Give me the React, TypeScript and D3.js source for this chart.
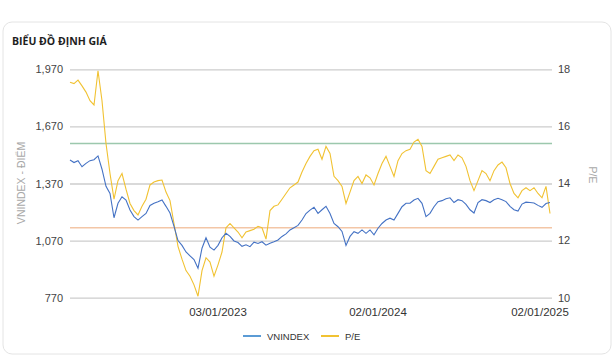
import React, { useEffect, useRef } from 'react'
import * as d3 from 'd3'

// samples on a trading-day index
const vnindex = [
  1493, 1480, 1490, 1458, 1476, 1490, 1495, 1515, 1445, 1355, 1318, 1190, 1266, 1300, 1283, 1231,
  1196, 1178, 1196, 1213, 1255, 1266, 1274, 1283, 1250, 1215, 1145, 1070, 1045, 1010, 990, 970,
  925, 1030, 1085, 1035, 1020, 1045, 1085, 1108, 1092, 1068, 1060, 1040, 1048, 1038, 1062, 1055,
  1064, 1046, 1056, 1064, 1073, 1092, 1105, 1126, 1138, 1150, 1178, 1212, 1230, 1245, 1213, 1232,
  1250, 1212, 1160, 1143, 1118, 1045, 1092, 1117, 1108, 1126, 1108, 1126, 1100, 1135, 1160, 1178,
  1188, 1178, 1213, 1248, 1266, 1266, 1283, 1292, 1266, 1196, 1213, 1248, 1274, 1280, 1290, 1295,
  1270, 1285, 1280, 1260, 1232, 1215, 1270, 1285, 1280, 1270, 1285, 1292, 1285, 1275, 1250, 1232,
  1225, 1262, 1272, 1270, 1268, 1255, 1245, 1265, 1270,
]

const pe = [
  17.55, 17.5, 17.62, 17.42, 17.2, 16.9, 16.75, 17.95, 16.9, 15.4, 14.35, 13.45, 14.1, 14.35, 13.8, 13.3,
  13.05, 12.9, 13.2, 13.45, 13.95, 14.05, 14.1, 14.12, 13.7, 13.4, 12.6, 11.8, 11.35, 10.95, 10.75, 10.45,
  10.05, 10.95, 11.4, 11.25, 10.75, 11.15, 11.6, 12.45, 12.6, 12.45, 12.3, 12.1, 12.3, 12.35, 12.4, 12.5,
  12.45, 12.05, 13.05, 13.2, 13.25, 13.45, 13.65, 13.85, 13.95, 14.05, 14.4, 14.7, 14.95, 15.15, 15.2, 14.85,
  15.3, 15.05, 14.25, 14.1, 13.9, 13.3, 13.7, 14.1, 14.25, 14.0, 14.3, 14.2, 13.95, 14.35, 14.7, 14.95,
  14.6, 14.25, 14.8, 15.05, 15.15, 15.2, 15.45, 15.55, 15.3, 14.45, 14.35, 14.6, 14.85, 14.9, 14.95, 15.0,
  14.8, 15.0, 14.9, 14.6, 14.1, 13.75, 14.1, 14.45, 14.35, 14.1, 14.45, 14.65, 14.75, 14.55, 14.0, 13.65,
  13.5, 13.75, 13.85, 13.75, 13.85, 13.65, 13.5, 13.9, 12.95,
]

const leftTicks = [770, 1070, 1370, 1670, 1970]
const rightTicks = [10, 12, 14, 16, 18]
const xTickIdx = [37, 77, 117.5]
const xTickLabels = ['03/01/2023', '02/01/2024', '02/01/2025']
const peBands = [15.4, 12.45]

const W = 615
const H = 361
const FONT = '"Liberation Sans", Arial, sans-serif'

const App: React.FC = () => {
  const ref = useRef<SVGSVGElement>(null)

  useEffect(() => {
    if (!ref.current) return
    const svg = d3.select(ref.current)
    svg.selectAll('*').remove()

    const left = 70
    const right = 550
    const top = 69.3
    const bottom = 297.7

    const x = d3.scaleLinear().domain([0, vnindex.length - 1]).range([left, right])
    const yL = d3.scaleLinear().domain([770, 1970]).range([bottom, top])
    const yR = d3.scaleLinear().domain([10, 18]).range([bottom, top])

    // card
    svg.append('rect')
      .attr('x', 3).attr('y', 22).attr('width', 608).attr('height', 332).attr('rx', 9)
      .attr('fill', '#fff').attr('stroke', '#e4e4e4')

    svg.append('text')
      .attr('x', 12).attr('y', 45)
      .attr('font-family', '"Open Sans", sans-serif').attr('font-weight', 700).attr('font-size', 10.5)
      .attr('fill', '#1e1e1e')
      .text('BIỂU ĐỒ ĐỊNH GIÁ')

    // left axis + grid
    const ga = svg.append('g')
      .attr('transform', `translate(${left},0)`)
      .call(d3.axisLeft(yL).tickValues(leftTicks).tickSize(-(right - left + 2)).tickPadding(7).tickFormat(d3.format(',')))
    ga.select('.domain').remove()
    ga.selectAll('line').attr('stroke', '#cdcdcd').attr('stroke-width', 1.3)
    ga.selectAll('text').attr('font-family', FONT).attr('font-size', 11).attr('fill', '#444')

    // right axis labels
    svg.append('g').selectAll('text')
      .data(rightTicks)
      .enter().append('text')
      .attr('x', 558).attr('y', d => yR(d)).attr('dy', '0.35em')
      .attr('font-family', FONT).attr('font-size', 11).attr('fill', '#444')
      .text(d => d)

    // P/E reference bands
    svg.append('g').selectAll('line')
      .data(peBands)
      .enter().append('line')
      .attr('x1', left).attr('x2', right + 2)
      .attr('y1', d => yR(d)).attr('y2', d => yR(d))
      .attr('stroke', (d, i) => (i === 0 ? '#9cc8ad' : '#f3c6a6'))
      .attr('stroke-width', 1.6)

    // axis titles
    svg.append('text')
      .attr('transform', `translate(25,183) rotate(-90)`)
      .attr('text-anchor', 'middle')
      .attr('font-family', FONT).attr('font-size', 10.5).attr('fill', '#a8a8a8')
      .text('VNINDEX - ĐIỂM')
    svg.append('text')
      .attr('transform', `translate(589,175) rotate(90)`)
      .attr('text-anchor', 'middle')
      .attr('font-family', FONT).attr('font-size', 10.5).attr('fill', '#a8a8a8')
      .text('P/E')

    // x labels
    svg.append('g').selectAll('text')
      .data(xTickIdx)
      .enter().append('text')
      .attr('x', d => x(d)).attr('y', 316)
      .attr('text-anchor', 'middle')
      .attr('font-family', FONT).attr('font-size', 11.5).attr('fill', '#333')
      .text((d, i) => xTickLabels[i])

    const lineL = d3.line<number>().x((d, i) => x(i)).y(d => yL(d))
    const lineR = d3.line<number>().x((d, i) => x(i)).y(d => yR(d))

    svg.append('path').datum(pe)
      .attr('d', lineR).attr('fill', 'none').attr('stroke', '#f1c232').attr('stroke-width', 1.1)
    svg.append('path').datum(vnindex)
      .attr('d', lineL).attr('fill', 'none').attr('stroke', '#4472c4').attr('stroke-width', 1.1)

    // legend
    const legend = [
      { name: 'VNINDEX', color: '#5b9bd5', x: 243 },
      { name: 'P/E', color: '#f1c232', x: 321 },
    ]
    const lg = svg.append('g').selectAll('g').data(legend).enter().append('g')
    lg.append('line')
      .attr('x1', d => d.x).attr('x2', d => d.x + 18).attr('y1', 336).attr('y2', 336)
      .attr('stroke', d => d.color).attr('stroke-width', 2)
    lg.append('text')
      .attr('x', d => d.x + 24).attr('y', 339.5)
      .attr('font-family', FONT).attr('font-size', 9.5).attr('fill', '#333')
      .text(d => d.name)
  }, [])

  return <svg ref={ref} width={W} height={H} style={{ position: 'absolute', left: 0, top: 0 }}></svg>
}

export default App
